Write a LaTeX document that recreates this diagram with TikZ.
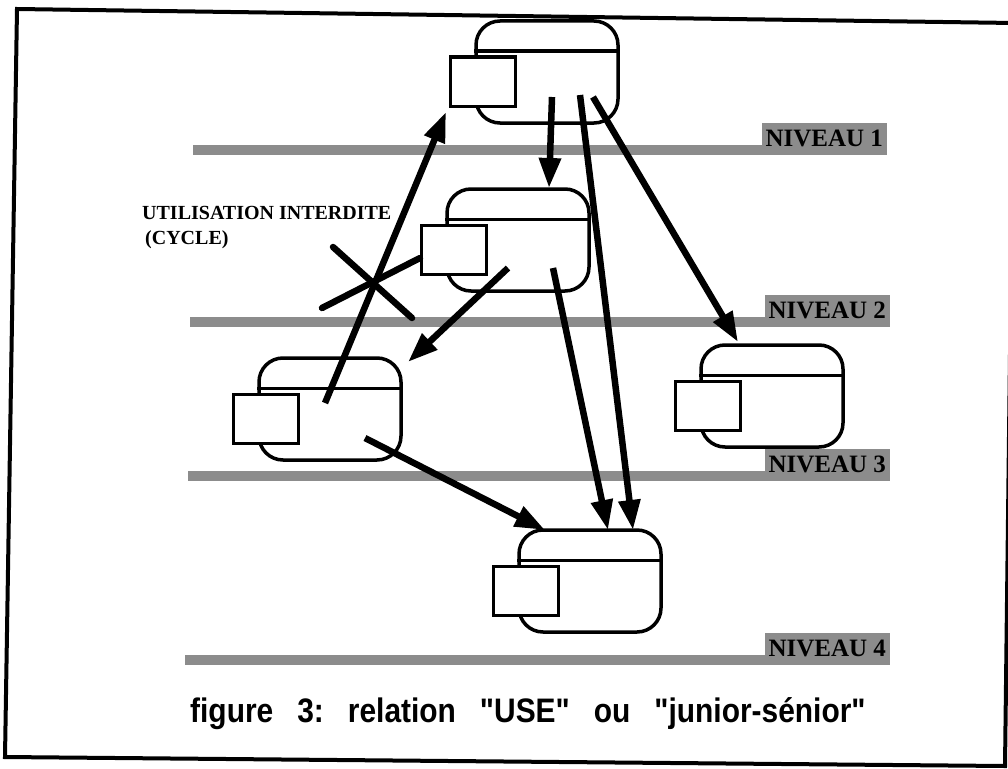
\documentclass[tikz,border=0pt]{standalone}
\usepackage{fontspec}
\setmainfont{Liberation Serif}
\newfontfamily\capfont[FakeStretch=0.88]{Liberation Sans}
\usetikzlibrary{arrows.meta}
\tikzset{
  modbox/.style={draw, line width=3.5pt, rounded corners=24pt, minimum width=142pt, minimum height=102pt, inner sep=0pt},
  modsq/.style={draw, fill=white, line width=3.5pt, minimum width=65pt, minimum height=49pt, inner sep=0pt},
  band/.style={fill=black!45},
  niv/.style={fill=black!45, inner sep=0pt, minimum width=125pt, minimum height=32pt, font=\bfseries\fontsize{25}{25}\selectfont},
  arr/.style={line width=6.5pt, -{Triangle[length=30pt,width=21pt]}},
  cross/.style={line width=6.5pt, line cap=round},
}
% one module: rounded box, header line, small square
\newcommand{\modul}[3]{%
  \node[modbox] (#1) at (#2,#3) {};
  \draw[line width=3.5pt] ([shift={(0,32)}]#1.north west) -- ([shift={(0,32)}]#1.north east);
  \node[modsq] (#1sq) at ([shift={(8.5,62.5)}]#1.north west) {};
}
\begin{document}
\begin{tikzpicture}[x=1pt,y=-1pt]
\useasboundingbox (0,0) rectangle (1008,768);
\draw[line width=4pt] (17,9) -- (1014,23) -- (1005,766) -- (5,757) -- cycle;
% levels
\fill[band] (193,145) rectangle (887,155);
\fill[band] (190,317) rectangle (890,327);
\fill[band] (188,471) rectangle (890,481);
\fill[band] (185,655) rectangle (890,665);
\node[niv, anchor=south east] (n1) at (887,155) {NIVEAU 1};
\node[niv, anchor=south east] (n2) at (890,327) {NIVEAU 2};
\node[niv, anchor=south east] (n3) at (890,481) {NIVEAU 3};
\node[niv, anchor=south east] (n4) at (890,665) {NIVEAU 4};
% modules
\modul{m1}{547}{72}
\modul{m2}{518}{240}
\modul{m3}{330}{409}
\modul{m4}{772}{396}
\modul{m5}{590}{581}
% uses
\path[draw,arr] ([shift={(5,25)}]m1.center) -- ([shift={(31,-52)}]m2.center);
\path[draw,arr] ([shift={(33,23)}]m1.center) -- ([shift={(43,-51)}]m5.center);
\path[draw,arr] ([shift={(46,25)}]m1.center) -- ([shift={(-34,-54)}]m4.center);
\path[draw,arr] ([shift={(35,28)}]m2.center) -- ([shift={(18,-51)}]m5.center);
\path[draw,arr] ([shift={(-10,28)}]m2.center) -- ([shift={(78,-47)}]m3.center);
\path[draw,arr] ([shift={(-5,-6)}]m3.center) -- ([shift={(-101,40)}]m1.center);
\path[draw,arr] ([shift={(35,29)}]m3.center) -- ([shift={(-45,-51)}]m5.center);
% forbidden cycle
\draw[cross] (333,247) -- (412,318);
\draw[cross] (322,308) -- (420,258);
\node[anchor=base west, font=\bfseries\fontsize{20}{20}\selectfont, inner sep=0pt] (t1) at (142,219) {UTILISATION INTERDITE};
\node[anchor=base west, font=\bfseries\fontsize{20}{20}\selectfont, inner sep=0pt] (t2) at (145,244) {(CYCLE)};
% caption
\node[anchor=base west, inner sep=0pt, font=\capfont\bfseries\fontsize{34}{34}\selectfont] (cap) at (190,722)
  {figure\hspace{24pt}3:\hspace{24pt}relation\hspace{24pt}"USE"\hspace{24pt}ou\hspace{24pt}"junior-sénior"};
\end{tikzpicture}
\end{document}
